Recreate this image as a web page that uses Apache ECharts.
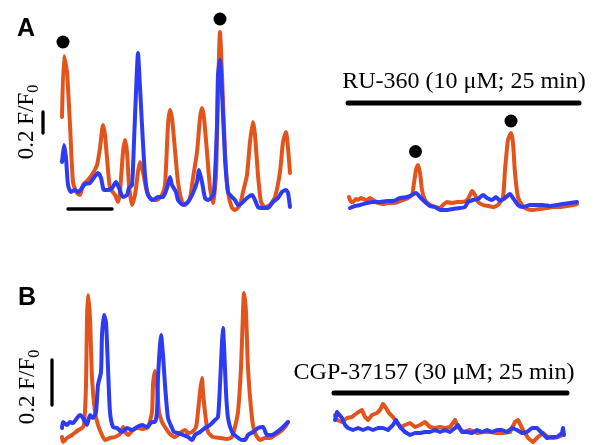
<!DOCTYPE html>
<html>
<head>
<meta charset="utf-8">
<script src="https://cdn.jsdelivr.net/npm/echarts@6/dist/echarts.min.js"></script>
<style>html,body{margin:0;padding:0;background:#fff;}#c{width:594px;height:445px;}</style>
</head>
<body>
<div id="c"></div>
<script>
// Panel A, control (left): [time, ΔF] pairs
const aLeftOrange = [[32,103],[34,164],[37,148],[40,95],[43,38],[47,27],[50,25],[53,35],[58,40],[63,47],[67,55],[70,72],[73,95],[75,85],[77,62],[80,32],[85,25],[88,18],[90,28],[93,68],[95,80],[97,68],[99,35],[102,15],[105,25],[108,48],[110,58],[113,48],[117,28],[122,20],[127,20],[132,25],[135,35],[138,95],[140,110],[142,102],[145,70],[148,38],[152,18],[155,15],[160,22],[163,42],[167,68],[170,102],[172,112],[174,102],[177,68],[180,32],[183,17],[186,45],[188,128],[190,188],[192,145],[195,68],[198,28],[202,12],[205,10],[210,15],[213,28],[217,45],[220,78],[223,98],[225,85],[228,45],[231,18],[235,13],[240,15],[245,23],[250,48],[253,78],[256,88],[258,72],[260,47]];
const aLeftBlue = [[32,58],[34,75],[36,62],[38,35],[41,28],[45,30],[48,28],[52,32],[55,36],[60,37],[63,41],[68,47],[71,42],[74,30],[78,30],[82,32],[86,38],[89,32],[93,23],[97,25],[99,32],[102,35],[104,78],[106,128],[108,167],[109,152],[112,95],[115,45],[118,25],[123,20],[128,23],[133,23],[137,32],[140,43],[142,35],[146,28],[148,20],[153,15],[158,18],[163,27],[167,38],[169,50],[172,38],[175,22],[178,20],[182,23],[184,28],[187,95],[188,145],[190,160],[192,128],[195,62],[198,28],[202,23],[205,20],[208,15],[212,17],[217,22],[222,25],[225,20],[228,13],[233,12],[238,12],[243,18],[248,22],[252,28],[256,30],[258,27],[260,13]];
const aLeftTimeBar = [[38,11],[82,11]];
const aLeftScaleBar = [[13,87],[13,108]];
const aLeftDots = [[33,178],[190,201]];

// Panel A, RU-360 (right)
const aRightOrange = [[9,23],[11,18],[13,18],[16,21],[18,20],[21,22],[23,21],[27,20],[30,22],[33,20],[38,17],[43,16],[48,17],[53,17],[58,18],[63,20],[68,22],[72,25],[74,37],[76,50],[78,55],[80,47],[82,30],[85,20],[90,15],[95,13],[100,12],[103,15],[107,18],[112,17],[117,18],[122,18],[127,20],[130,25],[132,29],[135,25],[138,18],[143,15],[148,14],[153,13],[158,15],[163,23],[165,50],[168,80],[171,87],[173,77],[175,47],[178,23],[182,15],[187,11],[193,10],[200,11],[207,12],[213,13],[220,13],[227,14],[233,15],[237,16]];
const aRightBlue = [[10,12],[15,14],[20,15],[27,17],[33,18],[40,18],[47,19],[53,19],[60,22],[67,23],[72,25],[76,27],[80,23],[85,18],[90,14],[95,13],[100,10],[107,10],[113,11],[120,12],[125,13],[128,18],[133,20],[138,21],[143,25],[147,22],[152,20],[156,23],[160,19],[165,22],[170,26],[173,22],[178,15],[183,13],[190,15],[197,15],[203,15],[210,14],[217,15],[223,16],[230,17],[237,18]];
const aRightDrugBar = [[8,117],[239,117]];
const aRightDots = [[75.5,68.5],[171,99]];

// Panel B, control (left)
const bLeftOrange = [[32,8],[33,3],[37,7],[42,10],[47,14],[52,17],[54,20],[56,60],[57,127],[58,150],[60,127],[62,67],[65,33],[68,20],[72,10],[75,5],[80,7],[85,8],[90,11],[93,18],[96,12],[98,10],[103,15],[108,17],[113,16],[118,18],[122,33],[123,60],[125,74],[127,60],[129,33],[132,23],[135,18],[140,11],[145,8],[150,12],[155,15],[158,12],[162,13],[166,18],[168,33],[170,53],[172,67],[173,53],[175,33],[178,13],[183,8],[190,7],[197,6],[202,8],[205,18],[208,33],[211,77],[213,133],[214,152],[216,133],[218,77],[222,27],[225,12],[230,5],[235,7],[240,7],[245,10],[250,13],[255,18],[258,23]];
const bLeftBlue = [[32,17],[33,23],[37,20],[40,23],[43,22],[47,27],[50,30],[53,27],[57,20],[60,30],[63,27],[66,33],[68,60],[71,73],[72,110],[74,130],[76,123],[78,77],[80,33],[83,18],[87,17],[92,13],[97,17],[102,15],[107,18],[112,20],[117,18],[122,23],[125,23],[127,33],[128,67],[130,100],[131,110],[133,90],[135,60],[138,27],[142,17],[144,13],[148,12],[153,10],[158,8],[162,5],[165,10],[170,13],[175,17],[180,20],[185,25],[188,28],[190,60],[192,103],[193,117],[194,100],[196,53],[198,27],[202,13],[207,8],[212,5],[215,5],[218,10],[223,13],[228,17],[233,18],[237,10],[242,10],[247,13],[252,17],[255,20],[258,23]];
const bLeftScaleBar = [[22,40],[22,85]];

// Panel B, CGP-37157 (right)
const bRightOrange = [[5,30],[7,25],[12,23],[17,27],[22,28],[27,32],[32,35],[35,28],[38,25],[42,30],[47,32],[50,35],[53,41],[56,37],[59,32],[63,28],[67,22],[71,18],[75,20],[80,22],[85,18],[90,20],[95,23],[100,18],[105,17],[110,18],[115,17],[120,18],[125,25],[128,18],[133,13],[140,15],[147,12],[153,13],[160,13],[167,12],[173,12],[180,13],[185,23],[188,25],[193,15],[198,7],[203,3],[208,8],[213,12],[218,8],[223,7],[228,8],[233,10]];
const bRightBlue = [[5,25],[7,33],[9,35],[12,27],[15,20],[18,17],[23,15],[28,17],[33,15],[38,17],[43,15],[48,17],[53,17],[58,15],[63,20],[66,25],[70,18],[75,13],[80,10],[85,12],[90,12],[95,13],[100,13],[105,15],[110,13],[115,15],[120,13],[125,17],[128,20],[132,13],[137,13],[142,12],[147,15],[152,13],[157,15],[162,13],[167,15],[172,15],[177,13],[182,17],[187,15],[192,12],[197,13],[202,17],[207,17],[212,12],[217,7],[222,8],[227,8],[232,12],[233,17],[234,10]];
const bRightDrugBar = [[4,52],[237,52]];

const ORANGE = '#E2541C';
const BLUE = '#2D3BF2';
const SERIF = '"Liberation Serif", "DejaVu Serif", serif';

const grids = [
  {left: 30, top: 10, width: 270, height: 210},
  {left: 340, top: 95, width: 245, height: 125},
  {left: 30, top: 280, width: 270, height: 165},
  {left: 330, top: 385, width: 245, height: 60}
];
const xMax = [270, 245, 270, 245];
const yMax = [210, 125, 165, 60];

function trace(data, color, idx, w, smooth) {
  return {type: 'line', data: data, xAxisIndex: idx, yAxisIndex: idx, showSymbol: false, clip: false,
    smooth: smooth || false,
    lineStyle: {color: color, width: w || 3, join: 'round', cap: 'round', opacity: 1}, silent: true, z: 2};
}
function dots(data, idx) {
  return {type: 'scatter', data: data, xAxisIndex: idx, yAxisIndex: idx, symbolSize: 13, clip: false,
    itemStyle: {color: '#000', opacity: 1}, silent: true, z: 3};
}
const subLabel = {
  text: '{n|0.2 F/F}{s|0}', align: 'center', verticalAlign: 'middle', fill: '#000',
  rich: {
    n: {fontSize: 23, fontFamily: SERIF, fill: '#000', lineHeight: 30, verticalAlign: 'middle'},
    s: {fontSize: 16, fontFamily: SERIF, fill: '#000', lineHeight: 30, verticalAlign: 'bottom'}
  }
};

const chart = echarts.init(document.getElementById('c'), null, {renderer: 'canvas'});
chart.setOption({
  animation: false,
  backgroundColor: '#fff',
  grid: grids,
  xAxis: grids.map((g, i) => ({type: 'value', gridIndex: i, min: 0, max: xMax[i], show: false})),
  yAxis: grids.map((g, i) => ({type: 'value', gridIndex: i, min: 0, max: yMax[i], show: false})),
  series: [
    trace(aLeftOrange, ORANGE, 0, 4, 0.2),
    trace(aLeftBlue, BLUE, 0, 4, 0.2),
    trace(aLeftTimeBar, '#000', 0, 3.5),
    trace(aLeftScaleBar, '#000', 0, 3.3),
    dots(aLeftDots, 0),
    trace(aRightOrange, ORANGE, 1, 4, 0.2),
    trace(aRightBlue, BLUE, 1, 4, 0.2),
    trace(aRightDrugBar, '#000', 1, 5),
    dots(aRightDots, 1),
    trace(bLeftOrange, ORANGE, 2, 4, 0.2),
    trace(bLeftBlue, BLUE, 2, 4, 0.2),
    trace(bLeftScaleBar, '#000', 2, 3.3),
    trace(bRightOrange, ORANGE, 3, 4),
    trace(bRightBlue, BLUE, 3, 4),
    trace(bRightDrugBar, '#000', 3, 5)
  ],
  graphic: [
    {type: 'text', x: 26, y: 29, style: {text: 'A', font: 'bold 25px "Liberation Sans", Arial, sans-serif', fill: '#000', align: 'center', verticalAlign: 'middle'}},
    {type: 'text', x: 27, y: 298, style: {text: 'B', font: 'bold 25px "Liberation Sans", Arial, sans-serif', fill: '#000', align: 'center', verticalAlign: 'middle'}},
    {type: 'text', x: 27, y: 122, rotation: Math.PI / 2, style: subLabel},
    {type: 'text', x: 28, y: 387, rotation: Math.PI / 2, style: subLabel},
    {type: 'text', x: 464, y: 82, style: {text: 'RU-360 (10 μM; 25 min)', font: '24px ' + SERIF, fill: '#000', align: 'center', verticalAlign: 'middle'}},
    {type: 'text', x: 434, y: 373, style: {text: 'CGP-37157 (30 μM; 25 min)', font: '24px ' + SERIF, fill: '#000', align: 'center', verticalAlign: 'middle'}}
  ]
});
</script>
</body>
</html>
